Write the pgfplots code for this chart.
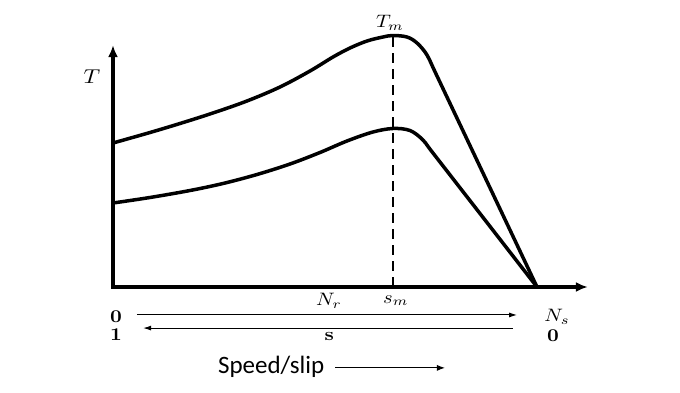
\documentclass[border=0pt]{standalone}
\usepackage{pgfplots}
\pgfplotsset{compat=1.18}
\usepackage{fontspec}
\newfontfamily\calibri{Carlito}
\usetikzlibrary{arrows.meta}
\begin{document}
\begin{tikzpicture}
\begin{axis}[hide axis, scale only axis, width=680pt, height=392pt,
  xmin=-26.65, xmax=133.73, ymin=-41.67, ymax=113.89, clip=false]
\path (rel axis cs:0,0) rectangle (rel axis cs:1,1);
% axes
\draw[line width=4.5pt, {Latex[length=12pt,width=10pt]}-{Latex[length=12pt,width=10pt]}] (axis cs:0,96) -- (axis cs:0,0) -- (axis cs:112,0);
% dashed line at s_m
\addplot[black, line width=2.2pt, dash pattern=on 10pt off 6pt] coordinates {(66.04,0) (66.04,100)};
\addplot[black, line width=1.5pt] coordinates {(66.04,0) (66.04,3.2)};
% upper curve
\addplot[black, line width=3.5pt, smooth, tension=0.55] coordinates {
(0,57.14) (8.73,61.31) (15.80,64.88) (23.58,69.05) (31.60,73.81) (39.39,79.37) (46.46,85.71)
(51.89,91.27) (55.90,94.84) (59.91,97.62) (63.68,99.21) (66.04,99.80)
(69.34,99.21) (71.70,96.83) (74.06,92.06) (76.42,83.73) (88.21,41.87) (100,0)};
% lower curve
\addplot[black, line width=3.5pt, smooth, tension=0.55] coordinates {
(0,33.33) (8.73,35.52) (18.16,38.29) (25.94,41.07) (33.96,44.64) (41.75,48.81) (48.82,53.37)
(55.19,57.94) (61.32,61.51) (66.04,62.90) (70.05,62.10) (73.11,58.33) (75.47,53.17)
(87.74,26.59) (100,0)};
% labels
\tikzset{lbl/.style={xscale=2.05, yscale=1.8, transform shape}}
\node[xscale=2.3, yscale=2.0, transform shape] at (axis cs:-4.95,83.3) {$T$};
\node[lbl] at (axis cs:65.3,104.8) {$T_m$};
\node[lbl] at (axis cs:50.9,-5.6) {$N_r$};
\node[lbl] at (axis cs:66.7,-5.4) {$s_m$};
\node[lbl, font=\bfseries] at (axis cs:0.7,-11.9) {0};
\node[lbl, font=\bfseries] at (axis cs:0.7,-19.0) {1};
\node[lbl] at (axis cs:104.7,-11.9) {$N_s$};
\node[lbl, font=\bfseries] at (axis cs:103.8,-19.4) {0};
\node[lbl, font=\bfseries] at (axis cs:51.0,-19.6) {s};
\draw[line width=1pt, -{Latex[length=8pt,width=5pt]}] (axis cs:5.66,-11.1) -- (axis cs:95.3,-11.1);
\draw[line width=1pt, -{Latex[length=8pt,width=5pt]}] (axis cs:94.3,-16.3) -- (axis cs:7.1,-16.3);
\node[font=\calibri\fontsize{25}{28}\selectfont] at (axis cs:37.3,-31.7) {Speed/slip};
\draw[line width=1pt, -{Latex[length=8pt,width=6pt]}] (axis cs:52.4,-32.1) -- (axis cs:78.3,-32.1);
\end{axis}
\end{tikzpicture}
\end{document}
